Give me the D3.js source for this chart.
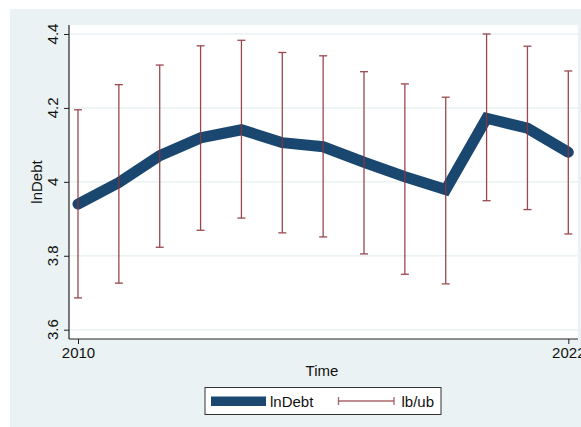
<!DOCTYPE html>
<html>
<head>
<meta charset="utf-8">
<script src="https://cdn.jsdelivr.net/npm/d3@7/dist/d3.min.js"></script>
<style>
  html, body { margin: 0; padding: 0; background: #ffffff; }
  svg { display: block; font-family: "Liberation Sans", Arial, sans-serif; }
</style>
</head>
<body>
<svg id="chart" width="581" height="427"></svg>
<script>
// Yearly log debt with its lower/upper bounds
const years   = [2010, 2011, 2012, 2013, 2014, 2015, 2016, 2017, 2018, 2019, 2020, 2021, 2022];
const lnDebt  = [3.940, 3.998, 4.071, 4.119, 4.141, 4.106, 4.095, 4.053, 4.014, 3.979, 4.172, 4.145, 4.080];
const lb      = [3.686, 3.726, 3.823, 3.869, 3.902, 3.862, 3.851, 3.805, 3.750, 3.724, 3.949, 3.925, 3.859];
const ub      = [4.195, 4.263, 4.316, 4.368, 4.383, 4.350, 4.341, 4.298, 4.265, 4.229, 4.400, 4.367, 4.300];
const yTicks  = [3.6, 3.8, 4.0, 4.2, 4.4];
const yTickLabels = ["3.6", "3.8", "4", "4.2", "4.4"];
const xTicks  = [2010, 2022];
const legendLabels = ["lnDebt", "lb/ub"];

const navy = "#1a476f";
const maroon = "#90353b";
const bg = "#eaf2f3";

const svg = d3.select("#chart");

// outer graph region
svg.append("rect").attr("x", 10).attr("y", 9).attr("width", 571).attr("height", 418).attr("fill", bg);

// plot region
const plot = { left: 69, top: 25, right: 578, bottom: 339 };
svg.append("rect")
  .attr("x", plot.left).attr("y", plot.top)
  .attr("width", plot.right - plot.left).attr("height", plot.bottom - plot.top)
  .attr("fill", "#ffffff");

const x = d3.scaleLinear().domain([2010, 2022]).range([78, 568.3]);
const y = d3.scaleLinear().domain([3.6, 4.4]).range([329.7, 34]);

// horizontal grid
svg.append("g").selectAll("line").data(yTicks).join("line")
  .attr("x1", plot.left).attr("x2", plot.right)
  .attr("y1", d => y(d)).attr("y2", d => y(d))
  .attr("stroke", bg).attr("stroke-width", 1.5);

// y axis
const yAxis = d3.axisLeft(y).tickValues(yTicks).tickSize(5)
  .tickFormat((d, i) => yTickLabels[i]);
const gy = svg.append("g").attr("transform", `translate(${plot.left},0)`).call(yAxis);
gy.select(".domain").remove();
gy.selectAll(".tick line").attr("stroke", "#222").attr("stroke-width", 1);
gy.selectAll(".tick text")
  .attr("fill", "#111").attr("font-size", 15)
  .attr("transform", function() { return "rotate(-90)"; })
  .attr("x", 0).attr("y", -11)
  .attr("dy", 0)
  .attr("text-anchor", "middle");
// the rotated labels need their positions recomputed in the rotated frame
gy.selectAll(".tick").each(function(d) {
  const t = d3.select(this);
  t.select("text").attr("transform", null).remove();
});
svg.append("g").selectAll("text").data(yTicks).join("text")
  .attr("transform", d => `translate(58,${y(d)}) rotate(-90)`)
  .attr("text-anchor", "middle")
  .attr("font-size", 15).attr("fill", "#111")
  .text((d, i) => yTickLabels[i]);

svg.append("line")
  .attr("x1", plot.left).attr("x2", plot.left)
  .attr("y1", plot.top).attr("y2", plot.bottom)
  .attr("stroke", "#222").attr("stroke-width", 1.2);

// x axis
const xAxis = d3.axisBottom(x).tickValues(xTicks).tickSize(5).tickFormat(d3.format("d"));
const gx = svg.append("g").attr("transform", `translate(0,${plot.bottom})`).call(xAxis);
gx.select(".domain").remove();
gx.selectAll(".tick line").attr("stroke", "#222");
gx.selectAll(".tick text").attr("fill", "#111").attr("font-size", 15).attr("y", 8).attr("dy", "0.71em")
  .attr("font-family", "Liberation Sans, Arial, sans-serif");
svg.append("line")
  .attr("x1", plot.left).attr("x2", plot.right)
  .attr("y1", plot.bottom).attr("y2", plot.bottom)
  .attr("stroke", "#222").attr("stroke-width", 1.2);

// axis titles
svg.append("text").attr("x", 322).attr("y", 376).attr("text-anchor", "middle")
  .attr("font-size", 15).attr("fill", "#111").text("Time");
svg.append("text").attr("transform", `translate(42,${(plot.top + plot.bottom) / 2}) rotate(-90)`)
  .attr("text-anchor", "middle").attr("font-size", 15).attr("fill", "#111").text("lnDebt");

// main series
const rows = years.map((yr, i) => ({ yr, v: lnDebt[i], lo: lb[i], hi: ub[i] }));
const line = d3.line().x(d => x(d.yr)).y(d => y(d.v));
svg.append("path").datum(rows)
  .attr("d", line)
  .attr("fill", "none").attr("stroke", navy).attr("stroke-width", 11)
  .attr("stroke-linecap", "round").attr("stroke-linejoin", "miter");

// range bars with caps
const bars = svg.append("g").attr("stroke", maroon).attr("stroke-width", 1.3).attr("opacity", 0.9);
bars.selectAll("line.v").data(rows).join("line").attr("class", "v")
  .attr("x1", d => x(d.yr)).attr("x2", d => x(d.yr))
  .attr("y1", d => y(d.lo)).attr("y2", d => y(d.hi));
bars.selectAll("line.capHi").data(rows).join("line").attr("class", "capHi")
  .attr("x1", d => x(d.yr) - 4).attr("x2", d => x(d.yr) + 4)
  .attr("y1", d => y(d.hi)).attr("y2", d => y(d.hi));
bars.selectAll("line.capLo").data(rows).join("line").attr("class", "capLo")
  .attr("x1", d => x(d.yr) - 4).attr("x2", d => x(d.yr) + 4)
  .attr("y1", d => y(d.lo)).attr("y2", d => y(d.lo));

// legend
const lg = svg.append("g");
lg.append("rect").attr("x", 205).attr("y", 387.5).attr("width", 236).attr("height", 27)
  .attr("fill", "#ffffff").attr("stroke", "#333").attr("stroke-width", 1);
lg.append("rect").attr("x", 211).attr("y", 396.5).attr("width", 55).attr("height", 9.5).attr("fill", navy);
lg.append("text").attr("x", 270).attr("y", 406.5).attr("font-size", 15).attr("fill", "#111").text(legendLabels[0]);
lg.append("line").attr("x1", 338.5).attr("x2", 394).attr("y1", 401).attr("y2", 401)
  .attr("stroke", maroon).attr("stroke-width", 1.3).attr("opacity", 0.75);
lg.append("line").attr("x1", 338.5).attr("x2", 338.5).attr("y1", 397).attr("y2", 405)
  .attr("stroke", maroon).attr("stroke-width", 1.3).attr("opacity", 0.75);
lg.append("line").attr("x1", 394).attr("x2", 394).attr("y1", 397).attr("y2", 405)
  .attr("stroke", maroon).attr("stroke-width", 1.3).attr("opacity", 0.75);
lg.append("text").attr("x", 401.5).attr("y", 406.5).attr("font-size", 15).attr("fill", "#111").text(legendLabels[1]);
</script>
</body>
</html>
